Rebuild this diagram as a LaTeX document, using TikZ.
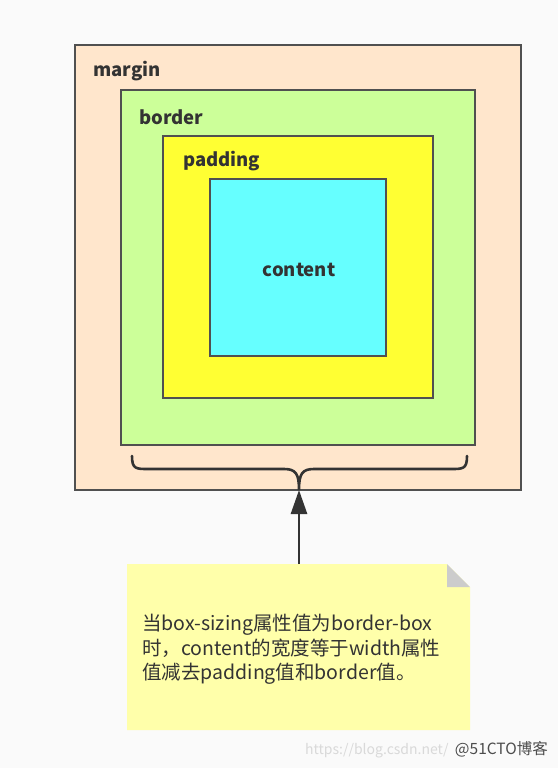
\documentclass[tikz,border=0pt]{standalone}
\usepackage{fontspec}
\setmainfont{Noto Sans CJK SC}
\usetikzlibrary{arrows.meta}
\definecolor{bggray}{HTML}{FAFAFA}
\definecolor{linegray}{HTML}{505050}
\definecolor{textgray}{HTML}{333333}
\definecolor{marginfill}{HTML}{FFE6CC}
\definecolor{borderfill}{HTML}{CCFF99}
\definecolor{paddingfill}{HTML}{FFFF33}
\definecolor{contentfill}{HTML}{66FFFF}
\definecolor{notefill}{HTML}{FFFFAA}
\definecolor{foldgray}{HTML}{CCCCCC}
\begin{document}
\begin{tikzpicture}[x=1pt,y=-1pt,
    layer/.style={draw=linegray, line width=1.2pt},
    lbl/.style={font=\bfseries\fontsize{18.5}{21}\selectfont, text=textgray, inner sep=0pt},
    notetext/.style={font=\fontsize{19.5}{24.5}\selectfont, text=textgray, align=left, inner sep=0pt, anchor=north west}]
    \fill[bggray] (0,0) rectangle (558,768);

    % nested boxes
    \draw[layer, fill=marginfill] (75,45) rectangle (521,490);
    \draw[layer, fill=borderfill] (121,90) rectangle (475,445);
    \draw[layer, fill=paddingfill] (163,136) rectangle (433,398);
    \draw[layer, fill=contentfill] (210,179) rectangle (386,356);

    \node[lbl, anchor=base west] (marginlbl) at (93,77) {margin};
    \node[lbl, anchor=base west] (borderlbl) at (139,124) {border};
    \node[lbl, anchor=base west] (paddinglbl) at (183,166) {padding};
    \node[lbl] (contentlbl) at (299,270) {content};

    % brace under the border box
    \coordinate (bracetip) at (299,490);
    \draw[textgray, line width=2.6pt, line cap=round]
        (132,456) .. controls (132,469) and (136,469) .. (148,469) -- (284,469)
        .. controls (296,469) and (299,474) .. (bracetip)
        .. controls (299,474) and (302,469) .. (314,469) -- (451,469)
        .. controls (463,469) and (467,469) .. (467,456);

    % note
    \fill[notefill] (127,564) -- (447,564) -- (470,587) -- (470,730) -- (127,730) -- cycle;
    \fill[foldgray] (447,564) -- (470,587) -- (447,587) -- cycle;
    \coordinate (notetop) at (299,564);
    \node[notetext] (note) at (142,614) {当box-sizing属性值为border-box\\时，content的宽度等于width属性\\值减去padding值和border值。};

    \draw[textgray, line width=2.6pt, -{Triangle[length=24pt,width=16pt]}] (notetop) -- (bracetip);

    % watermark
    \node[font=\fontsize{14}{16}\selectfont, text=black!15, anchor=base west, inner sep=0pt] (wmurl) at (305,754) {https://blog.csdn.net/};
    \node[font=\fontsize{15.5}{17}\selectfont, text=black!70, anchor=base east, inner sep=0pt] (wmsite) at (548,754) {@51CTO博客};
\end{tikzpicture}
\end{document}
